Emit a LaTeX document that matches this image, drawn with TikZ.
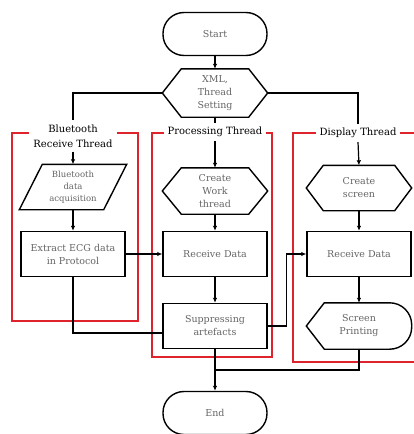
\documentclass[tikz,border=0pt]{standalone}
\usepackage{fontspec}
\setmainfont{DejaVu Serif}
\usetikzlibrary{arrows.meta}

\definecolor{framered}{RGB}{222,35,45}
\definecolor{boxtext}{RGB}{100,100,100}

\tikzset{
  outline/.style={draw=black, line width=1.4pt, line join=miter},
}

% outlines drawn round plain nodes
\newcommand{\hexframe}[2][19pt]{%
  \draw[outline] ([xshift=#1]#2.north west) -- ([xshift=-#1]#2.north east) -- (#2.east)
    -- ([xshift=-#1]#2.south east) -- ([xshift=#1]#2.south west) -- (#2.west) -- cycle;}
\newcommand{\slantframe}[2][23pt]{%
  \draw[outline] ([xshift=#1]#2.north west) -- (#2.north east)
    -- ([xshift=-#1]#2.south east) -- (#2.south west) -- cycle;}
\newcommand{\displayframe}[2][18pt]{%
  \draw[outline] ([xshift=#1]#2.north west) [rounded corners=22pt] -- (#2.north east)
    -- (#2.south east) [sharp corners] -- ([xshift=#1]#2.south west) -- (#2.west) -- cycle;}

\begin{document}
\begin{tikzpicture}[
    x=1pt, y=-1pt,
    block/.style={
      rectangle,
      outline,
      align=center,
      text=boxtext,
      font=\fontsize{9.5}{13}\selectfont,
      inner sep=2pt,
      minimum width=104pt,
      minimum height=45pt
    },
    plain/.style={block, draw=none},
    terminal/.style={block, rounded corners=21pt, minimum height=43pt},
    title/.style={align=center, fill=white, inner sep=4pt,
      font=\fontsize{10}{15}\selectfont},
    thread/.style={draw=framered, line width=1.4pt},
    line/.style={draw=black, line width=1.2pt},
    arrow/.style={line, -{Latex[length=5pt,width=4.5pt]}},
]
\useasboundingbox (0,0) rectangle (414,434);

% thread frames
\draw[thread] (12,133) rectangle (138,321);
\draw[thread] (152,133) rectangle (272,357);
\draw[thread] (293,133) rectangle (420,362);

\node[title] (blt) at (73,136) {Bluetooth\\Receive Thread};
\node[title] (proc) at (215,132) {Processing Thread};
\node[title] (disp) at (358,133) {Display Thread};

% main line
\node[terminal] (start) at (215,34) {Start};
\node[plain, minimum height=47pt] (xml) at (215,93) {XML,\\Thread\\Setting};
\hexframe{xml}

% bluetooth receive thread
\node[plain, minimum width=106pt, minimum height=44pt,
  font=\fontsize{8.5}{12}\selectfont] (bda) at (73,187) {Bluetooth\\data\\acquisition};
\slantframe{bda}
\node[block] (ecg) at (73,254) {Extract ECG data\\in Protocol};

% processing thread
\node[plain] (cwt) at (215,191) {Create\\Work\\thread};
\hexframe{cwt}
\node[block] (rd1) at (215,254) {Receive Data};
\node[block] (sup) at (215,326) {Suppressing\\artefacts};

% display thread
\node[plain, minimum height=44pt] (cs) at (359,188) {Create\\screen};
\hexframe[17pt]{cs}
\node[block] (rd2) at (359,254) {Receive Data};
\node[plain] (sp) at (359,326) {Screen\\Printing};
\displayframe{sp}

\node[terminal] (end) at (215,413) {End};
\coordinate (join) at (215,370);

% connectors
\draw[arrow] (start) -- (xml);
\draw[line] (xml.west) -| (blt.north);
\draw[line] (xml.south) -- (proc.north);
\draw[line] (xml.east) -| (disp.north);
\draw[arrow] (blt.south) -- (bda.north);
\draw[arrow] (proc.south) -- (cwt.north);
\draw[arrow] (disp.south) -- (cs.north);
\draw[arrow] (bda.south) -- (ecg.north);
\draw[arrow] (ecg.east) -- (rd1.west);
\draw[line] (ecg.south) |- ([yshift=-7pt]sup.west);
\draw[arrow] (cwt.south) -- (rd1.north);
\draw[arrow] (rd1.south) -- (sup.north);
\draw[arrow] (sup.east) -- ++(19,0) |- (rd2.west);
\draw[arrow] (cs.south) -- (rd2.north);
\draw[arrow] (rd2.south) -- (sp.north);
\draw[arrow] (sup.south) -- (end.north);
\draw[line] (sp.south) |- (join);

\end{tikzpicture}
\end{document}
